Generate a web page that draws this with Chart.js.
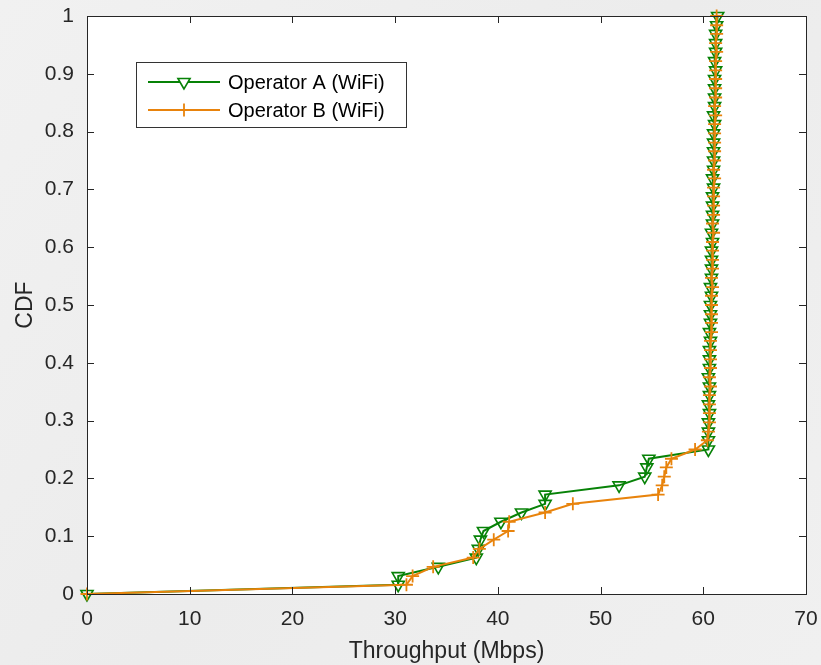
<!DOCTYPE html>
<html>
<head>
<meta charset="utf-8">
<script src="https://cdn.jsdelivr.net/npm/chart.js@4.4.0/dist/chart.umd.min.js"></script>
<style>
  html, body { margin: 0; padding: 0; background: #efefef; }
  #wrap { width: 821px; height: 665px; }
</style>
</head>
<body>
<div id="wrap"><canvas id="cdfChart" width="821" height="665"></canvas></div>
<script>
// CDF levels (same 65 steps for both operators)
const cdfLevels = [
  0, 0.016, 0.031, 0.047, 0.063, 0.078, 0.094, 0.109, 0.125, 0.141,
  0.156, 0.172, 0.188, 0.203, 0.219, 0.234, 0.25, 0.266, 0.281, 0.297,
  0.313, 0.328, 0.344, 0.359, 0.375, 0.391, 0.406, 0.422, 0.438, 0.453,
  0.469, 0.484, 0.5, 0.516, 0.531, 0.547, 0.563, 0.578, 0.594, 0.609,
  0.625, 0.641, 0.656, 0.672, 0.688, 0.703, 0.719, 0.734, 0.75, 0.766,
  0.781, 0.797, 0.813, 0.828, 0.844, 0.859, 0.875, 0.891, 0.906, 0.922,
  0.938, 0.953, 0.969, 0.984, 1
];

// throughput (Mbps) at each level
const opAThroughput = [
  0, 30.3, 30.3, 34.2, 37.9, 38.1, 38.3, 38.6, 40.3, 42.3,
  44.6, 44.6, 51.8, 54.3, 54.5, 54.7, 60.5,
  60.5, 60.5, 60.5, 60.6, 60.5, 60.6, 60.6, 60.5, 60.6, 60.6,
  60.6, 60.7, 60.6, 60.7, 60.7, 60.7, 60.8, 60.7, 60.8, 60.8,
  60.8, 60.8, 60.9, 60.8, 60.9, 60.9, 60.9, 60.9, 61.0, 60.9,
  61.0, 61.0, 61.0, 61.0, 61.0, 61.1, 61.0, 61.1, 61.1, 61.1,
  61.1, 61.2, 61.1, 61.2, 61.2, 61.2, 61.3, 61.4
];
const opBThroughput = [
  0, 31.1, 31.7, 33.7, 37.6, 38.2, 39.6, 41.0, 41.1, 44.6,
  47.3, 55.6, 56.0, 56.2, 56.4, 56.9, 59.2, 60.4,
  60.5, 60.6, 60.6, 60.6, 60.6, 60.7, 60.6, 60.7, 60.7, 60.7,
  60.7, 60.8, 60.8, 60.8, 60.8, 60.8, 60.9, 60.8, 60.9, 60.9,
  60.9, 60.9, 61.0, 60.9, 61.0, 61.0, 61.0, 61.0, 61.1, 61.0,
  61.1, 61.1, 61.1, 61.1, 61.1, 61.2, 61.1, 61.2, 61.2, 61.2,
  61.2, 61.2, 61.3, 61.2, 61.3, 61.3, 61.3
];

const seriesNames = ['Operator A (WiFi)', 'Operator B (WiFi)'];
const xTicks = [0, 10, 20, 30, 40, 50, 60, 70];
const yTicks = [0, 0.1, 0.2, 0.3, 0.4, 0.5, 0.6, 0.7, 0.8, 0.9, 1];

const FONT = '"Liberation Sans", Arial, Helvetica, sans-serif';
const AXIS_COLOR = '#262626';
const GREEN = '#078207';
const ORANGE = '#e8830c';

function toPoints(xs, ys) {
  return xs.map((x, i) => ({ x: x, y: ys[i] }));
}

// paper background + white plot area
const backdrop = {
  id: 'backdrop',
  beforeDraw(chart) {
    const { ctx, chartArea: a } = chart;
    ctx.save();
    const g = ctx.createLinearGradient(0, 0, chart.width, chart.height);
    g.addColorStop(0, '#f1f1f1');
    g.addColorStop(0.5, '#ececec');
    g.addColorStop(1, '#f0f0f0');
    ctx.fillStyle = g;
    ctx.fillRect(0, 0, chart.width, chart.height);
    ctx.fillStyle = '#ffffff';
    ctx.fillRect(a.left, a.top, a.right - a.left, a.bottom - a.top);
    ctx.restore();
  }
};

// matlab style box with inward ticks, and the boxed legend
const boxAndLegend = {
  id: 'boxAndLegend',
  afterDatasetsDraw(chart) {
    const { ctx, chartArea: a, scales } = chart;
    const tl = 7;
    ctx.save();
    ctx.strokeStyle = AXIS_COLOR;
    ctx.lineWidth = 1;
    ctx.beginPath();
    xTicks.forEach(v => {
      const px = Math.round(scales.x.getPixelForValue(v)) + 0.5;
      ctx.moveTo(px, a.bottom); ctx.lineTo(px, a.bottom - tl);
      ctx.moveTo(px, a.top); ctx.lineTo(px, a.top + tl);
    });
    yTicks.forEach(v => {
      const py = Math.round(scales.y.getPixelForValue(v)) + 0.5;
      ctx.moveTo(a.left, py); ctx.lineTo(a.left + tl, py);
      ctx.moveTo(a.right, py); ctx.lineTo(a.right - tl, py);
    });
    ctx.stroke();
    ctx.strokeRect(Math.round(a.left) + 0.5, Math.round(a.top) + 0.5,
      Math.round(a.right - a.left), Math.round(a.bottom - a.top));

    // legend
    const lx = 136, ly = 62, lw = 270, lh = 65;
    ctx.fillStyle = '#ffffff';
    ctx.fillRect(lx, ly, lw, lh);
    ctx.strokeStyle = '#333333';
    ctx.strokeRect(lx + 0.5, ly + 0.5, lw, lh);
    chart.data.datasets.forEach((ds, i) => {
      const cy = ly + 20 + i * 28;
      ctx.strokeStyle = ds.borderColor;
      ctx.lineWidth = 2;
      ctx.beginPath();
      ctx.moveTo(lx + 12, cy); ctx.lineTo(lx + 84, cy);
      ctx.stroke();
      ctx.fillStyle = '#ffffff';
      ctx.lineWidth = ds.pointBorderWidth;
      Chart.helpers.drawPoint(ctx, {
        pointStyle: ds.pointStyle,
        rotation: ds.pointRotation,
        radius: ds.pointRadius,
        borderWidth: ds.pointBorderWidth
      }, lx + 48, cy);
      ctx.fillStyle = '#000000';
      ctx.font = '20px ' + FONT;
      ctx.textAlign = 'left';
      ctx.textBaseline = 'middle';
      ctx.fillText(ds.label, lx + 92, cy + 1);
    });
    ctx.restore();
  }
};

const ctx = document.getElementById('cdfChart');
const chart = new Chart(ctx, {
  type: 'scatter',
  data: {
    datasets: [
      {
        label: seriesNames[0],
        data: toPoints(opAThroughput, cdfLevels),
        showLine: true,
        borderColor: GREEN,
        borderWidth: 2,
        pointStyle: 'triangle',
        pointRotation: 180,
        pointRadius: 7,
        pointBorderWidth: 1.6,
        pointBorderColor: GREEN,
        pointBackgroundColor: 'rgba(255,255,255,0)',
        clip: false,
        order: 2
      },
      {
        label: seriesNames[1],
        data: toPoints(opBThroughput, cdfLevels),
        showLine: true,
        borderColor: ORANGE,
        borderWidth: 2,
        pointStyle: 'cross',
        pointRotation: 0,
        pointRadius: 6.5,
        pointBorderWidth: 1.8,
        pointBorderColor: ORANGE,
        pointBackgroundColor: ORANGE,
        clip: false,
        order: 1
      }
    ]
  },
  options: {
    responsive: false,
    animation: false,
    events: [],
    layout: { padding: { left: 0, right: 15, top: 16, bottom: 0 } },
    plugins: {
      legend: { display: false },
      tooltip: { enabled: false }
    },
    scales: {
      x: {
        type: 'linear',
        min: 0,
        max: 70,
        afterBuildTicks: s => { s.ticks = xTicks.map(v => ({ value: v })); },
        afterFit: s => { s.height = 71; s.paddingLeft = 0; s.paddingRight = 0; },
        grid: { display: false, drawTicks: false },
        border: { display: false },
        ticks: {
          color: AXIS_COLOR,
          padding: 13,
          maxRotation: 0,
          font: { family: FONT, size: 21 }
        },
        title: {
          display: true,
          text: 'Throughput (Mbps)',
          color: AXIS_COLOR,
          padding: { top: 0, bottom: 0 },
          font: { family: FONT, size: 23 }
        }
      },
      y: {
        type: 'linear',
        min: 0,
        max: 1,
        afterBuildTicks: s => { s.ticks = yTicks.map(v => ({ value: v })); },
        afterFit: s => { s.width = 87; s.paddingTop = 0; s.paddingBottom = 0; },
        grid: { display: false, drawTicks: false },
        border: { display: false },
        ticks: {
          color: AXIS_COLOR,
          padding: 13,
          font: { family: FONT, size: 21 },
          callback: v => String(Math.round(v * 10) / 10)
        },
        title: {
          display: true,
          text: 'CDF',
          color: AXIS_COLOR,
          padding: { top: 12, bottom: 0 },
          font: { family: FONT, size: 23 }
        }
      }
    }
  },
  plugins: [backdrop, boxAndLegend]
});
</script>
</body>
</html>
